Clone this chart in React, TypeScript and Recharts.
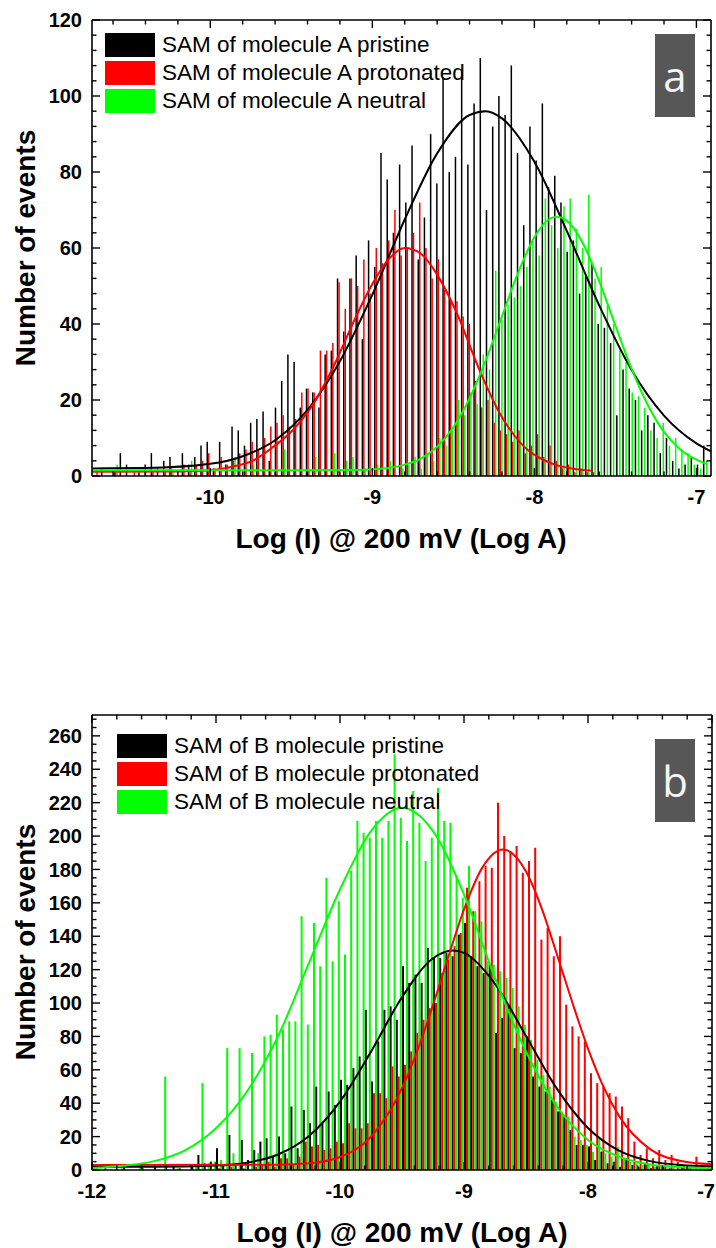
import { Bar, ComposedChart, Line, XAxis, YAxis } from "recharts"

const FONT = "'Liberation Sans', Arial, Helvetica, sans-serif"

// ---- panel a : SAM of molecule A ----
const BIN_A_START = -10.7
const BIN_A_WIDTH = 0.0383

const pristineA = [
  0, 2, 0, 1, 6, 3, 0, 1, 3, 6, 2, 4, 5, 0, 6, 3, 5, 8, 9, 2,
  9, 3, 13, 12, 8, 14, 15, 17, 4, 18, 25, 32, 30, 18, 23, 22, 18, 32, 33, 52,
  38, 52, 58, 36, 62, 55, 85, 78, 64, 82, 72, 87, 57, 68, 90, 77, 105, 80, 84, 107,
  82, 98, 110, 70, 92, 100, 95, 108, 85, 66, 92, 83, 98, 76, 79, 72, 59, 62, 48, 53,
  56, 40, 39, 35, 16, 28, 23, 20, 12, 16, 14, 6, 10, 4, 2, 3, 5, 3, 8,
]
const protonatedA = [
  1, 0, 0, 1, 0, 0, 1, 0, 0, 1, 0, 1, 2, 0, 3, 1, 3, 4, 6, 2,
  5, 3, 4, 6, 7, 9, 7, 10, 13, 14, 16, 13, 15, 22, 23, 22, 33, 33, 35, 51,
  44, 52, 50, 57, 48, 60, 56, 62, 70, 58, 60, 64, 72, 60, 52, 57, 49, 46, 46, 42,
  40, 25, 18, 20, 14, 12, 11, 9, 12, 6, 8, 11, 5, 8, 4, 2, 3, 1, 2, 1,
  1, 0, 0, 0, 0, 0, 0, 0, 0, 0, 0, 0, 0, 0, 0, 0, 0, 0, 0,
]
const neutralA = [
  0, 0, 0, 3, 0, 0, 0, 0, 0, 0, 0, 0, 1, 0, 0, 4, 0, 0, 0, 0,
  0, 0, 5, 0, 0, 3, 0, 0, 0, 0, 7, 0, 0, 0, 2, 5, 0, 0, 6, 0,
  4, 5, 0, 2, 0, 3, 0, 4, 0, 2, 3, 5, 2, 6, 4, 10, 8, 12, 20, 16,
  22, 19, 32, 28, 54, 41, 45, 47, 50, 55, 62, 58, 73, 66, 60, 71, 73, 65, 60, 74,
  52, 55, 45, 40, 33, 30, 22, 21, 18, 12, 10, 14, 8, 10, 7, 6, 3, 2, 4,
]

const fitPristineA = [
  { x: -10.73, y: 2.0 }, { x: -10.4, y: 2.1 }, { x: -10.0, y: 3.2 }, { x: -9.8, y: 5.2 },
  { x: -9.6, y: 9.4 }, { x: -9.4, y: 17.4 }, { x: -9.2, y: 30.2 }, { x: -9.0, y: 47.7 },
  { x: -8.8, y: 67.5 }, { x: -8.6, y: 84.9 }, { x: -8.4, y: 95.0 }, { x: -8.3, y: 96.0 },
  { x: -8.2, y: 94.1 }, { x: -8.0, y: 82.7 }, { x: -7.8, y: 64.5 }, { x: -7.6, y: 44.9 },
  { x: -7.4, y: 27.9 }, { x: -7.2, y: 15.9 }, { x: -7.0, y: 8.6 }, { x: -6.91, y: 6.5 },
]
const fitProtonatedA = [
  { x: -10.73, y: 1.1 }, { x: -10.2, y: 1.2 }, { x: -10.0, y: 1.5 }, { x: -9.86, y: 2.5 },
  { x: -9.73, y: 4.2 }, { x: -9.61, y: 7.7 }, { x: -9.49, y: 12.1 }, { x: -9.36, y: 19.2 },
  { x: -9.24, y: 28.8 }, { x: -9.1, y: 42.0 }, { x: -9.0, y: 50.5 }, { x: -8.9, y: 57.0 },
  { x: -8.8, y: 60.0 }, { x: -8.7, y: 58.5 }, { x: -8.6, y: 53.0 }, { x: -8.48, y: 43.0 },
  { x: -8.34, y: 28.0 }, { x: -8.22, y: 17.0 }, { x: -8.07, y: 8.0 }, { x: -7.91, y: 3.6 },
  { x: -7.76, y: 1.9 }, { x: -7.64, y: 1.4 },
]
const fitNeutralA = [
  { x: -10.73, y: 1.5 }, { x: -9.5, y: 1.5 }, { x: -9.1, y: 1.6 }, { x: -8.9, y: 2.1 },
  { x: -8.8, y: 3.0 }, { x: -8.7, y: 4.6 }, { x: -8.6, y: 7.7 }, { x: -8.5, y: 12.8 },
  { x: -8.4, y: 20.4 }, { x: -8.3, y: 30.4 }, { x: -8.2, y: 42.0 }, { x: -8.1, y: 53.5 },
  { x: -8.0, y: 62.8 }, { x: -7.9, y: 67.8 }, { x: -7.86, y: 68.2 }, { x: -7.8, y: 67.2 },
  { x: -7.7, y: 61.2 }, { x: -7.6, y: 51.3 }, { x: -7.5, y: 39.6 }, { x: -7.4, y: 28.2 },
  { x: -7.3, y: 18.7 }, { x: -7.2, y: 11.6 }, { x: -7.1, y: 7.0 }, { x: -6.94, y: 3.2 },
]

const xMajorsA = [-10, -9, -8, -7]
const yMajorsA = [0, 20, 40, 60, 80, 100, 120]

// ---- panel b : SAM of B molecule ----
const BIN_B_START = -11.975
const BIN_B_WIDTH = 0.05

const pristineB = [
  0, 0, 1, 0, 0, 2, 0, 0, 1, 0, 3, 0, 0, 2, 1, 0, 3, 9, 4, 5,
  13, 3, 21, 4, 18, 6, 12, 17, 19, 8, 20, 10, 38, 13, 36, 28, 50, 29, 47, 39,
  54, 51, 61, 68, 96, 53, 77, 96, 98, 90, 122, 112, 117, 112, 133, 127, 127, 130, 128, 141,
  148, 128, 122, 118, 123, 82, 91, 99, 73, 70, 80, 56, 50, 47, 42, 35, 32, 24, 15, 15,
  14, 6, 11, 4, 5, 2, 7, 3, 2, 4, 1, 3, 2, 1, 0, 2, 1, 0, 1, 0,
]
const protonatedB = [
  0, 0, 0, 0, 0, 0, 0, 0, 0, 0, 0, 0, 0, 0, 0, 0, 0, 0, 0, 0,
  1, 0, 2, 0, 1, 0, 2, 3, 5, 2, 7, 7, 3, 8, 17, 14, 15, 12, 13, 17,
  16, 28, 25, 25, 28, 46, 46, 43, 62, 56, 63, 71, 82, 90, 97, 100, 118, 126, 134, 142,
  169, 155, 173, 182, 181, 220, 200, 191, 194, 178, 185, 193, 138, 145, 128, 140, 99, 86, 80, 77,
  58, 52, 50, 46, 44, 38, 31, 17, 9, 13, 7, 12, 6, 9, 5, 3, 2, 8, 3, 2,
]
const neutralB = [
  1, 0, 0, 0, 1, 0, 0, 2, 0, 0, 0, 56, 0, 1, 0, 0, 3, 52, 4, 5,
  6, 73, 10, 73, 3, 70, 10, 80, 81, 93, 84, 89, 89, 152, 87, 148, 122, 175, 125, 161,
  129, 179, 209, 202, 199, 209, 199, 209, 249, 211, 197, 227, 208, 185, 199, 229, 209, 208, 176, 163,
  182, 155, 149, 125, 123, 119, 115, 109, 98, 87, 78, 66, 57, 50, 41, 34, 32, 20, 18, 15,
  11, 20, 10, 8, 14, 7, 5, 4, 3, 3, 2, 2, 1, 2, 1, 1, 1, 0, 1, 2,
]

const fitPristineB = [
  { x: -12, y: 2.0 }, { x: -11.5, y: 2.0 }, { x: -11.0, y: 2.7 }, { x: -10.75, y: 4.4 },
  { x: -10.5, y: 9.3 }, { x: -10.25, y: 20.4 }, { x: -10.0, y: 41.0 }, { x: -9.75, y: 70.9 },
  { x: -9.5, y: 103.5 }, { x: -9.25, y: 126.8 }, { x: -9.09, y: 131.5 }, { x: -9.0, y: 130.0 },
  { x: -8.75, y: 111.5 }, { x: -8.5, y: 80.2 }, { x: -8.25, y: 48.6 }, { x: -8.0, y: 25.2 },
  { x: -7.75, y: 11.6 }, { x: -7.5, y: 5.3 }, { x: -7.25, y: 3.0 }, { x: -7.0, y: 2.2 },
]
const fitProtonatedB = [
  { x: -12, y: 3.0 }, { x: -10.5, y: 3.2 }, { x: -10.25, y: 4.0 }, { x: -10.0, y: 7.8 },
  { x: -9.75, y: 19.9 }, { x: -9.5, y: 49.0 }, { x: -9.375, y: 71.6 }, { x: -9.25, y: 98.8 },
  { x: -9.125, y: 128.0 }, { x: -9.0, y: 156.0 }, { x: -8.85, y: 181.4 }, { x: -8.685, y: 192.0 },
  { x: -8.5, y: 178.8 }, { x: -8.375, y: 157.0 }, { x: -8.25, y: 129.0 }, { x: -8.125, y: 100.0 },
  { x: -8.0, y: 72.7 }, { x: -7.875, y: 49.8 }, { x: -7.75, y: 32.4 }, { x: -7.5, y: 12.5 },
  { x: -7.25, y: 5.4 }, { x: -7.0, y: 3.45 },
]
const fitNeutralB = [
  { x: -12, y: 1.2 }, { x: -11.75, y: 2.5 }, { x: -11.5, y: 5.3 }, { x: -11.25, y: 11.8 },
  { x: -11.0, y: 25 }, { x: -10.75, y: 47 }, { x: -10.5, y: 80 }, { x: -10.25, y: 124 },
  { x: -10.0, y: 168 }, { x: -9.75, y: 203 }, { x: -9.5, y: 217 }, { x: -9.25, y: 203 },
  { x: -9.0, y: 165 }, { x: -8.75, y: 115 }, { x: -8.5, y: 71 }, { x: -8.25, y: 38 },
  { x: -8.0, y: 18 }, { x: -7.75, y: 8 }, { x: -7.5, y: 3.3 }, { x: -7.25, y: 1.7 }, { x: -7.0, y: 1.1 },
]

const xMajorsB = [-12, -11, -10, -9, -8, -7]
const yMajorsB = [0, 20, 40, 60, 80, 100, 120, 140, 160, 180, 200, 220, 240, 260]

const legendA = ["SAM of molecule A pristine", "SAM of molecule A protonated", "SAM of molecule A neutral"]
const legendB = ["SAM of B molecule pristine", "SAM of B molecule protonated", "SAM of B molecule neutral"]
const COLORS = ["#000000", "#ff0000", "#00ff00"]

const X_TITLE = "Log (I) @ 200 mV (Log A)"
const Y_TITLE = "Number of events"

// minor tick grid (majors are listed above)
const range = (start: number, stop: number, step: number) =>
  Array.from({ length: Math.round((stop - start) / step) + 1 }, (_, i) => +(start + i * step).toFixed(4))

function toRows(start: number, width: number, a: number[], b: number[], c: number[]) {
  return a.map((v, i) => ({ x: +(start + i * width).toFixed(4), pristine: v, protonated: b[i], neutral: c[i] }))
}

type Side = "bottom" | "left" | "top" | "right"

function makeTick(side: Side, majors: number[]) {
  return (props: any) => {
    const { x, y, payload } = props
    const v = payload.value as number
    const major = majors.some((m) => Math.abs(m - v) < 1e-6)
    const len = major ? 8 : 4.5
    let p = { x1: x, y1: y, x2: x, y2: y - len }
    if (side === "top") p = { x1: x, y1: y, x2: x, y2: y + len }
    if (side === "left") p = { x1: x, y1: y, x2: x + len, y2: y }
    if (side === "right") p = { x1: x, y1: y, x2: x - len, y2: y }
    // keep the last bottom label inside the page
    const atEdge = x > 705
    return (
      <g>
        <line {...p} stroke="#000" strokeWidth={1.4} />
        {major && side === "bottom" && (
          <text
            x={atEdge ? 715 : x} y={y + 28} textAnchor={atEdge ? "end" : "middle"}
            fontFamily={FONT} fontWeight={700} fontSize={20} fill="#000"
          >
            {v}
          </text>
        )}
        {major && side === "left" && (
          <text x={x - 10} y={y} dy="0.36em" textAnchor="end" fontFamily={FONT} fontWeight={700} fontSize={20} fill="#000">
            {v}
          </text>
        )}
      </g>
    )
  }
}

type PanelProps = {
  top: number
  height: number
  margin: { top: number; right: number; bottom: number; left: number }
  rows: any[]
  fits: { x: number; y: number }[][]
  xDomain: [number, number]
  yDomain: [number, number]
  xTicks: number[]
  yTicks: number[]
  xMajors: number[]
  yMajors: number[]
  barSize: number
}

function Panel(p: PanelProps) {
  const axisLine = { stroke: "#000", strokeWidth: 1.6 }
  return (
    <div style={{ position: "absolute", left: 0, top: p.top }}>
      <ComposedChart width={716} height={p.height} data={p.rows} margin={p.margin} barGap={0}>
        <XAxis
          dataKey="x" type="number" domain={p.xDomain} allowDataOverflow ticks={p.xTicks} interval={0}
          height={1} tickSize={0} tickMargin={0} tickLine={false} axisLine={axisLine} tick={makeTick("bottom", p.xMajors)}
        />
        <XAxis
          xAxisId="t" orientation="top" dataKey="x" type="number" domain={p.xDomain} allowDataOverflow ticks={p.xTicks}
          interval={0} height={1} tickSize={0} tickMargin={0} tickLine={false} axisLine={axisLine} tick={makeTick("top", p.xMajors)}
        />
        <YAxis
          type="number" domain={p.yDomain} allowDataOverflow ticks={p.yTicks} interval={0}
          width={1} tickSize={0} tickMargin={0} tickLine={false} axisLine={axisLine} tick={makeTick("left", p.yMajors)}
        />
        <YAxis
          yAxisId="r" orientation="right" type="number" domain={p.yDomain} allowDataOverflow ticks={p.yTicks} interval={0}
          width={1} tickSize={0} tickMargin={0} tickLine={false} axisLine={axisLine} tick={makeTick("right", p.yMajors)}
        />
        <Bar dataKey="pristine" fill={COLORS[0]} barSize={p.barSize} isAnimationActive={false} />
        <Bar dataKey="protonated" fill={COLORS[1]} barSize={p.barSize} isAnimationActive={false} />
        <Bar dataKey="neutral" fill={COLORS[2]} barSize={p.barSize} isAnimationActive={false} />
        {p.fits.map((d, i) => (
          <Line
            key={i} data={d} dataKey="y" xAxisId="t" yAxisId="r" type="monotone" stroke={COLORS[i]}
            strokeWidth={2} dot={false} activeDot={false} isAnimationActive={false}
          />
        ))}
      </ComposedChart>
    </div>
  )
}

const titleStyle = {
  position: "absolute" as const,
  fontFamily: FONT,
  fontWeight: 700,
  fontSize: 28,
  whiteSpace: "nowrap" as const,
  lineHeight: 1,
  color: "#000",
}

function Titles({ xc, xy, yx, yy }: { xc: number; xy: number; yx: number; yy: number }) {
  return (
    <>
      <div style={{ ...titleStyle, left: xc, top: xy, transform: "translate(-50%, -50%)" }}>{X_TITLE}</div>
      <div style={{ ...titleStyle, left: yx, top: yy, transform: "translate(-50%, -50%) rotate(-90deg)" }}>{Y_TITLE}</div>
    </>
  )
}

function Legend({ items, left, top }: { items: string[]; left: number; top: number }) {
  return (
    <>
      {items.map((t, i) => (
        <div
          key={t}
          style={{ position: "absolute", left, top: top + i * 28, height: 24, display: "flex", alignItems: "center", gap: 7 }}
        >
          <div style={{ width: 50, height: 24, background: COLORS[i] }} />
          <span style={{ fontFamily: FONT, fontSize: 22.5, color: "#000", whiteSpace: "nowrap", lineHeight: 1 }}>{t}</span>
        </div>
      ))}
    </>
  )
}

function Tag({ text, left, top }: { text: string; left: number; top: number }) {
  return (
    <div
      style={{
        position: "absolute", left, top, width: 40, height: 83, background: "#575757", color: "#f4f4f4",
        display: "flex", alignItems: "center", justifyContent: "center",
        fontFamily: "'Open Sans', sans-serif", fontSize: 42, lineHeight: 1,
      }}
    >
      {text}
    </div>
  )
}

export default function App() {
  const rowsA = toRows(BIN_A_START, BIN_A_WIDTH, pristineA, protonatedA, neutralA)
  const rowsB = toRows(BIN_B_START, BIN_B_WIDTH, pristineB, protonatedB, neutralB)
  return (
    <div style={{ position: "absolute", left: 0, top: 0, width: 716, height: 1248, background: "#fff" }}>
      <Panel
        top={0} height={560} margin={{ top: 19, right: 4, bottom: 83, left: 91 }} rows={rowsA}
        fits={[fitPristineA, fitProtonatedA, fitNeutralA]} xDomain={[-10.73, -6.91]} yDomain={[0, 120]}
        xTicks={range(-10.6, -7.0, 0.2)} yTicks={range(0, 120, 4)} xMajors={xMajorsA} yMajors={yMajorsA} barSize={1.5}
      />
      <Legend items={legendA} left={105} top={33} />
      <Tag text="a" left={655} top={34} />
      <Titles xc={401} xy={539} yx={26} yy={248} />

      <Panel
        top={700} height={548} margin={{ top: 14, right: 3, bottom: 77, left: 91 }} rows={rowsB}
        fits={[fitPristineB, fitProtonatedB, fitNeutralB]} xDomain={[-12, -7]} yDomain={[0, 272.5]}
        xTicks={range(-12, -7, 0.2)} yTicks={range(0, 270, 5)} xMajors={xMajorsB} yMajors={yMajorsB} barSize={2}
      />
      <Legend items={legendB} left={117} top={734} />
      <Tag text="b" left={655} top={739} />
      <Titles xc={402} xy={1233} yx={26} yy={942} />
    </div>
  )
}
